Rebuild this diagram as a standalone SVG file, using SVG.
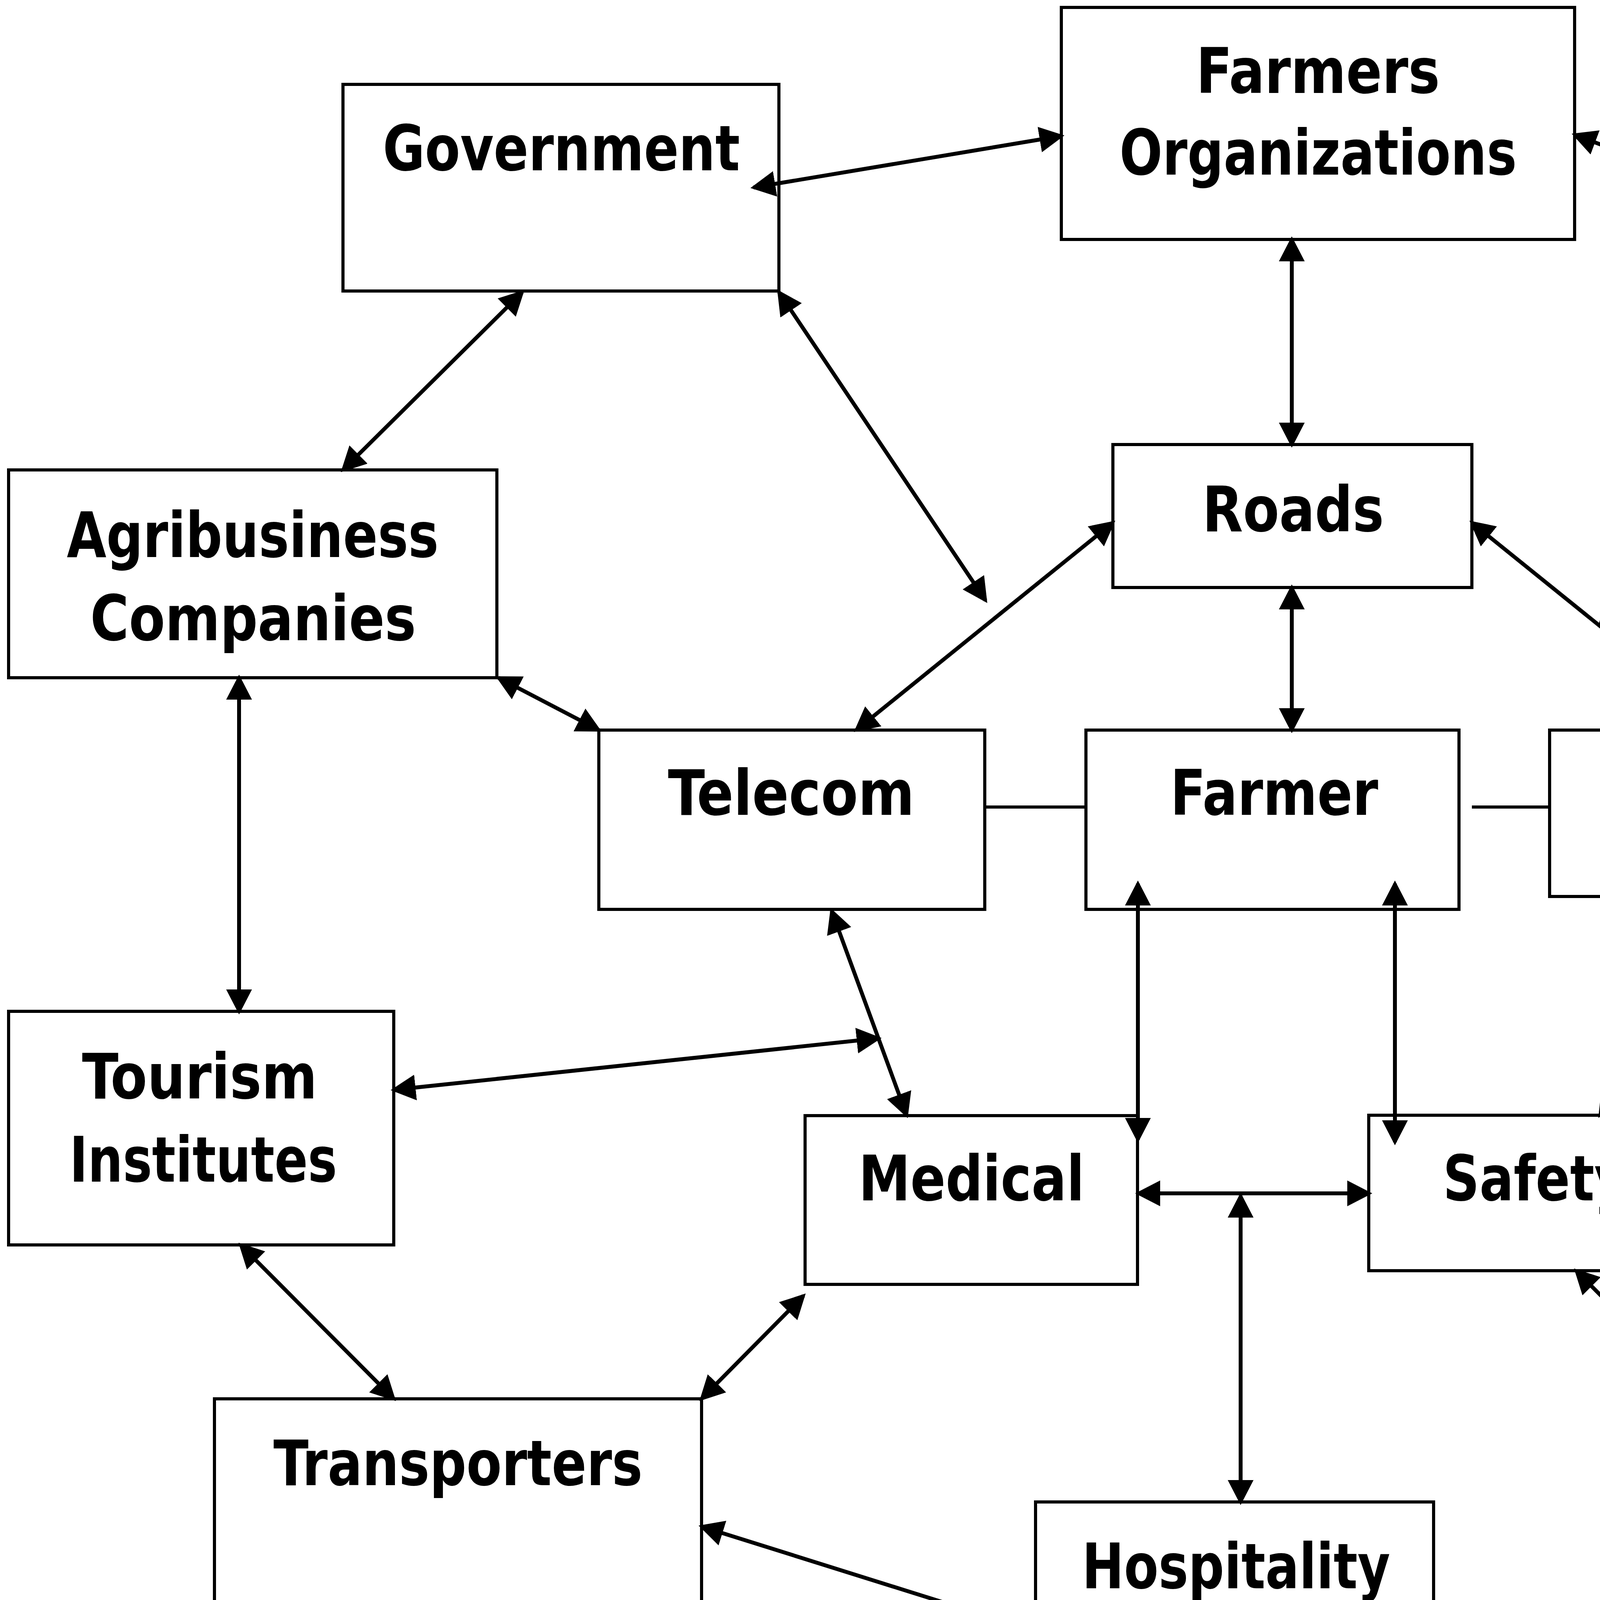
<svg xmlns="http://www.w3.org/2000/svg" width="6416" height="4457" viewBox="0 0 6416 4457">
<style>
.box{fill:#fff;stroke:#000;stroke-width:8}
.lbl{font-family:"DejaVu Sans Condensed","DejaVu Sans","Liberation Sans",sans-serif;font-weight:bold;font-size:160px;fill:#000}
.ser{font-family:"Liberation Serif","Times New Roman",serif;font-weight:normal;font-size:185px;fill:#000}
.arr{fill:none;stroke:#000;stroke-width:10;marker-start:url(#ah);marker-end:url(#ah)}
.ln{fill:none;stroke:#000;stroke-width:8}
</style>
<defs>
<marker id="ah" markerUnits="userSpaceOnUse" markerWidth="64" markerHeight="66" viewBox="0 0 64 66" refX="56" refY="33" orient="auto-start-reverse">
<path d="M0,0 L64,33 L0,66 z" fill="#000"/>
</marker>
</defs>
<rect width="6416" height="4457" fill="#fff"/>
<g id="government"><rect class="box" x="878" y="216" width="1116" height="529"/><text class="lbl" x="980" y="436" textLength="914" lengthAdjust="spacingAndGlyphs">Government</text></g>
<g id="farmers-organizations"><rect class="box" x="2717" y="19" width="1314" height="594"/><text class="lbl" x="3062" y="238" textLength="624" lengthAdjust="spacingAndGlyphs">Farmers</text><text class="lbl" x="2866" y="447" textLength="1017" lengthAdjust="spacingAndGlyphs">Organizations</text></g>
<g id="foreign-embassies"><rect class="box" x="4755" y="348" width="982" height="594"/><text class="lbl" x="4976" y="568" textLength="548" lengthAdjust="spacingAndGlyphs">Foreign</text><text class="lbl" x="4851" y="778" textLength="800" lengthAdjust="spacingAndGlyphs">Embassies</text></g>
<g id="agribusiness-companies"><rect class="box" x="22" y="1203" width="1250" height="532"/><text class="lbl" x="171" y="1426" textLength="952" lengthAdjust="spacingAndGlyphs">Agribusiness</text><text class="lbl" x="231" y="1639" textLength="834" lengthAdjust="spacingAndGlyphs">Companies</text></g>
<g id="roads"><rect class="box" x="2849" y="1138" width="919" height="366"/><text class="lbl" x="3078" y="1360" textLength="465" lengthAdjust="spacingAndGlyphs">Roads</text></g>
<g id="telecom"><rect class="box" x="1533" y="1869" width="988" height="459"/><text class="lbl" x="1710" y="2086" textLength="631" lengthAdjust="spacingAndGlyphs">Telecom</text></g>
<g id="farmer"><rect class="box" x="2780" y="1869" width="955" height="459"/><text class="lbl" x="2996" y="2086" textLength="532" lengthAdjust="spacingAndGlyphs">Farmer</text></g>
<g id="transport"><rect class="box" x="3967" y="1869" width="983" height="426"/><text class="lbl" x="4098" y="2086" textLength="714" lengthAdjust="spacingAndGlyphs">Transport</text></g>
<g id="tour-operators"><rect class="box" x="5411" y="1603" width="982" height="593"/><text class="lbl" x="5739" y="1819" textLength="328" lengthAdjust="spacingAndGlyphs">Tour</text><text class="lbl" x="5544" y="2024" textLength="716" lengthAdjust="spacingAndGlyphs">operators</text></g>
<g id="tourism-institutes"><rect class="box" x="22" y="2589" width="986" height="598"/><text class="lbl" x="210" y="2812" textLength="602" lengthAdjust="spacingAndGlyphs">Tourism</text><text class="lbl" x="178" y="3025" textLength="685" lengthAdjust="spacingAndGlyphs">Institutes</text></g>
<g id="medical"><rect class="box" x="2061" y="2856" width="851" height="432"/><text class="lbl" x="2198" y="3073" textLength="578" lengthAdjust="spacingAndGlyphs">Medical</text></g>
<g id="safety"><rect class="box" x="3504" y="2855" width="855" height="398"/><text class="lbl" x="3694" y="3073" textLength="472" lengthAdjust="spacingAndGlyphs">Safety</text></g>
<g id="co-operatives"><rect class="box" x="5214" y="2922" width="1184" height="461"/><text class="lbl" x="5306" y="3143" textLength="928" lengthAdjust="spacingAndGlyphs">Co-operative</text><text class="ser" x="6244" y="3143">s</text></g>
<g id="transporters"><rect class="box" x="549" y="3581" width="1247" height="530"/><text class="lbl" x="700" y="3802" textLength="945" lengthAdjust="spacingAndGlyphs">Transporters</text></g>
<g id="hospitality-industry"><rect class="box" x="2651" y="3845" width="1019" height="595"/><text class="lbl" x="2770" y="4066" textLength="789" lengthAdjust="spacingAndGlyphs">Hospitality</text><text class="lbl" x="2868" y="4274" textLength="595" lengthAdjust="spacingAndGlyphs">industry</text></g>
<g id="press"><rect class="box" x="4488" y="3779" width="792" height="529"/><text class="lbl" x="4687" y="3999" textLength="406" lengthAdjust="spacingAndGlyphs">Press</text></g>
<g id="connectors">
<line class="arr" x1="1929" y1="480" x2="2717" y2="348"/>
<line class="arr" x1="4031" y1="345" x2="4755" y2="616"/>
<line class="arr" x1="1337" y1="748" x2="878" y2="1203"/>
<line class="arr" x1="1994" y1="748" x2="2523" y2="1537"/>
<line class="arr" x1="3307" y1="613" x2="3307" y2="1138"/>
<line class="arr" x1="2849" y1="1338" x2="2192" y2="1869"/>
<line class="arr" x1="1276" y1="1735" x2="1533" y2="1869"/>
<line class="arr" x1="4755" y1="942" x2="4096" y2="1599"/>
<line class="arr" x1="3768" y1="1338" x2="4426" y2="1869"/>
<line class="arr" x1="5282" y1="946" x2="5604" y2="1603"/>
<line class="arr" x1="3307" y1="1504" x2="3307" y2="1869"/>
<line class="ln" x1="2521" y1="2066" x2="2780" y2="2066"/>
<line class="ln" x1="3768" y1="2066" x2="3967" y2="2066"/>
<line class="arr" x1="4950" y1="1998" x2="5411" y2="1998"/>
<line class="arr" x1="612" y1="1735" x2="612" y2="2589"/>
<line class="arr" x1="2129" y1="2332" x2="2321" y2="2855"/>
<line class="arr" x1="1008" y1="2790" x2="2249" y2="2658"/>
<line class="arr" x1="2913" y1="2262" x2="2913" y2="2918"/>
<line class="arr" x1="3571" y1="2262" x2="3571" y2="2924"/>
<line class="arr" x1="2914" y1="3055" x2="3505" y2="3055"/>
<line class="arr" x1="3176" y1="3061" x2="3176" y2="3845"/>
<line class="arr" x1="4492" y1="2260" x2="4096" y2="2855"/>
<line class="arr" x1="4359" y1="2524" x2="5214" y2="2920"/>
<line class="arr" x1="5805" y1="2196" x2="5805" y2="2920"/>
<line class="arr" x1="616" y1="3187" x2="1008" y2="3581"/>
<line class="arr" x1="2057" y1="3317" x2="1796" y2="3581"/>
<line class="arr" x1="1796" y1="3908" x2="2651" y2="4176"/>
<line class="arr" x1="4035" y1="3253" x2="4558" y2="3779"/>
<line class="arr" x1="5604" y1="3383" x2="5083" y2="3779"/>
<line class="arr" x1="3637" y1="4176" x2="4488" y2="4176"/>
</g>
</svg>
